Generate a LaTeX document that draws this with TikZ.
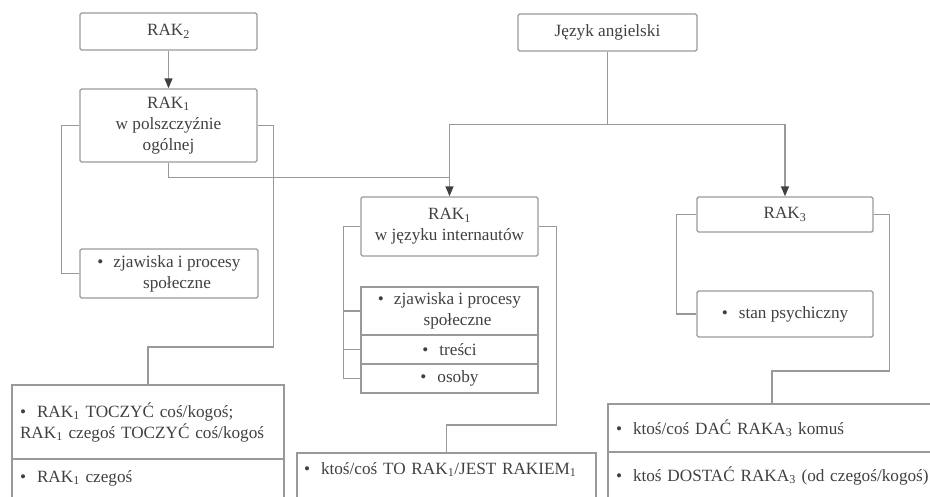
\documentclass[tikz,border=0pt]{standalone}
\usepackage{fontspec}
\setmainfont{Liberation Serif}
\usepackage{tikz}
\usetikzlibrary{arrows.meta, positioning, calc}
\definecolor{linia}{gray}{0.6}
\definecolor{tekst}{gray}{0.25}
\newcommand{\rak}[1]{RAK\textsubscript{#1}}
\newcommand{\punkt}{\textbullet\hspace{11pt}}
\newcommand{\punktdwa}[2]{\begin{tabular}{@{}l@{\hspace{10pt}}c@{}}\textbullet & #1\\ & #2\end{tabular}}
\tikzset{
    box/.style={rectangle, draw=linia, line width=1.4pt, rounded corners=1.5pt, text=tekst, align=center, inner sep=0pt, font=\fontsize{17.2}{21}\selectfont},
    cell/.style={box, rounded corners=0pt, outer sep=0pt},
    listbox/.style={cell, align=left, inner xsep=8pt},
    openbox/.style={listbox, text height=12pt, text depth=40pt},
    link/.style={draw=linia, line width=1.4pt},
    thinlink/.style={draw=linia, line width=1pt},
    arrow/.style={link, -{Triangle[width=8pt, length=10pt, color=tekst]}}
}
\begin{document}
\begin{tikzpicture}[x=1pt, y=-1pt]
    \useasboundingbox (0,0) rectangle (930,496);
    \clip (0,0) rectangle (930,496);

    % Left branch
    \node (rak2) [box, minimum width=177pt, minimum height=37pt] at (168.5,31.5) {\rak{2}};
    \node (rak1) [box, minimum width=177pt, minimum height=73pt] at (168.5,125.5) {\rak{1}\\w polszczyźnie\\ogólnej};
    \node (zjaw1) [box, minimum width=178pt, minimum height=49pt] at (169,273.5) {\punktdwa{zjawiska i procesy}{społeczne}};
    \node (bot1a) [listbox, text width=256pt, minimum height=74pt] at (148,422) {\punkt\rak{1} TOCZYĆ coś/kogoś;\\\rak{1} czegoś TOCZYĆ coś/kogoś};
    \node (bot1b) [openbox, text width=256pt, inner ysep=11pt, below=0pt of bot1a] {\punkt\rak{1} czegoś};

    \draw [arrow] (rak2) -- (rak1);
    \draw [link] (rak1.west) -- ++(-18,0) |- (zjaw1.west);
    \draw [link] (rak1.east) -- ++(16,0) |- ($(bot1a.north)+(0,-38)$) -- (bot1a.north);

    % Middle branch
    \node (eng) [box, minimum width=179pt, minimum height=37pt] at (607.5,32.5) {Język angielski};
    \node (inet) [box, minimum width=177pt, minimum height=59pt] at (449.5,226.5) {\rak{1}\\w języku internautów};
    \node (lista1) [cell, minimum width=177pt, minimum height=48pt] at (449.5,311) {\punktdwa{zjawiska i procesy}{społeczne}};
    \node (lista2) [cell, minimum width=177pt, minimum height=29pt, below=0pt of lista1] {\punkt treści};
    \node (lista3) [cell, minimum width=177pt, minimum height=29pt, below=0pt of lista2] {\punkt osoby};
    \node (bot2) [openbox, text width=285pt, inner xsep=7pt, inner ysep=9pt, anchor=north] at (446.5,453) {\mbox{\punkt ktoś/coś TO \rak{1}/JEST RAKIEM\textsubscript{1}}};

    \draw [link] (eng.south) -- ++(0,73) coordinate (split);
    \draw [arrow] (split) -| (inet.north);
    \draw [thinlink] (rak1.south) |- ($(inet.north)+(0,-19)$);
    \coordinate (ilewy) at ($(inet.west)+(-17,0)$);
    \draw [link] (inet.west) -- (ilewy);
    \foreach \s in {lista1, lista2, lista3}
        \draw [link] (ilewy) |- (\s.west);
    \draw [link] (inet.east) -- ++(18,0) |- ($(bot2.north)+(0,-28)$) -- (bot2.north);

    % Right branch
    \node (rak3) [box, minimum width=176pt, minimum height=35pt] at (785,214.5) {\rak{3}};
    \node (stan) [box, minimum width=176pt, minimum height=46pt] at (785,314) {\punkt stan psychiczny};
    \node (bot3a) [listbox, text width=330pt, minimum height=48pt, anchor=north west] at (608,404) {\punkt ktoś/coś DAĆ RAKA\textsubscript{3} komuś};
    \node (bot3b) [openbox, text width=330pt, inner ysep=17pt, below=0pt of bot3a] {\punkt ktoś DOSTAĆ RAKA\textsubscript{3} (od czegoś/kogoś)};
    \coordinate (wej3) at ($(bot3a.north west)+(164,0)$);

    \draw [arrow] (split) -| (rak3.north);
    \draw [link] (rak3.west) -- ++(-20,0) |- (stan.west);
    \draw [link] (rak3.east) -- ++(16,0) |- ($(wej3)+(0,-33)$) -- (wej3);
\end{tikzpicture}
\end{document}
